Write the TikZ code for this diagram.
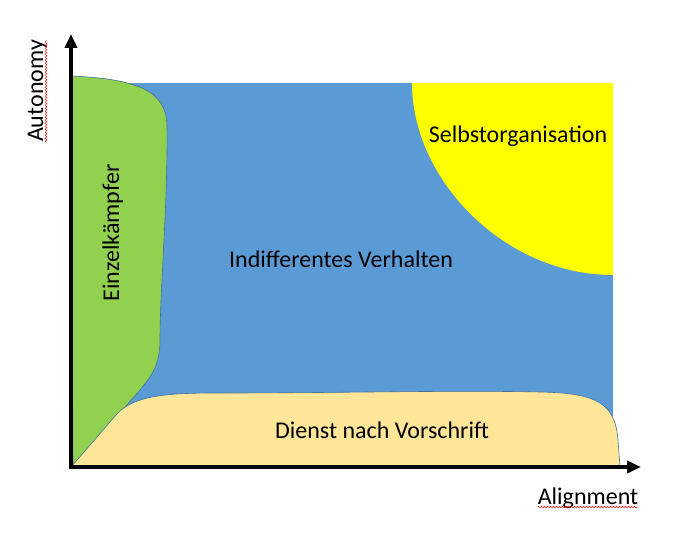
\documentclass[tikz,border=0pt]{standalone}
\usepackage{fontspec}
\setmainfont{Carlito}
\usetikzlibrary{arrows.meta,calc,decorations.pathmorphing}
\definecolor{quadblue}{HTML}{5B9BD5}
\definecolor{kampfgreen}{HTML}{92D050}
\definecolor{dienstcream}{HTML}{FFE699}
\definecolor{selbstyellow}{HTML}{FFFF00}
\definecolor{edgeblue}{HTML}{41719C}
\begin{document}
\begin{tikzpicture}[x=1pt,y=-1pt,
    label/.style={font=\fontsize{24}{28}\selectfont, inner sep=0pt},
    axis/.style={line width=3.6pt, -{Triangle[length=14pt,width=12pt]}},
    region/.style={draw=edgeblue, line width=0.6pt},
    squiggle/.style={red, line width=0.5pt, decorate,
      decoration={snake, amplitude=0.7pt, segment length=3pt}}]
   \useasboundingbox (0,0) rectangle (676,535);
   % quadrants
   \fill[quadblue] (71,83) rectangle (613,440);
   \fill[selbstyellow] (412,83) .. controls (412,180) and (505,275) .. (613,275)
      -- (613,83) -- cycle;
   \path[region, fill=kampfgreen] (71,76) .. controls (140,79) and (166,92) .. (167,125)
      .. controls (168,200) and (160,290) .. (160,340)
      .. controls (160,365) and (152,375) .. (140,390) -- (73,466) -- cycle;
   \path[region, fill=dienstcream] (72,466) -- (116,415)
      .. controls (132,397) and (160,393) .. (215,393)
      .. controls (350,393) and (450,390) .. (540,392)
      .. controls (600,393) and (615,405) .. (618,440) -- (620,467) -- cycle;
   % axes
   \coordinate (origin) at (71,467);
   \coordinate (ytip) at (71,34);
   \coordinate (xtip) at (641,467);
   \draw[axis] (origin) -- (ytip);
   \draw[axis] ([xshift=-1.8pt]origin) -- (xtip);
   % labels
   \node[label, anchor=base] (selbst) at (518,142) {Selbstorganisation};
   \node[label, anchor=base] (indiff) at (341,267) {Indifferentes Verhalten};
   \node[label, anchor=base] (dienst) at (382,438) {Dienst nach Vorschrift};
   \node[label, anchor=base, rotate=90] (einzel) at (119,233) {Einzelkämpfer};
   \node[label, anchor=base, rotate=90] (ylabel) at (43,91) {Autonomy};
   \node[label, anchor=base] (xlabel) at (588,504) {Alignment};
   \draw[squiggle] ($(ylabel.base west)+(3,0)$) -- ($(ylabel.base east)+(3,0)$);
   \draw[squiggle] ($(xlabel.base west)+(0,3)$) -- ($(xlabel.base east)+(0,3)$);
\end{tikzpicture}
\end{document}
